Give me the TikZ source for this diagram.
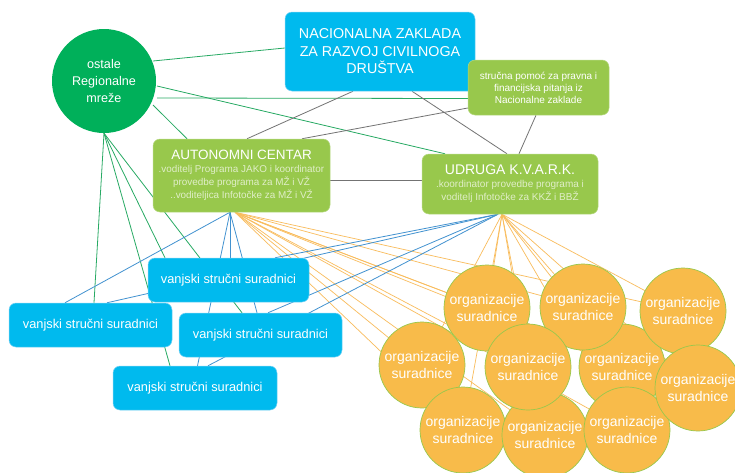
\documentclass[tikz,border=0pt]{standalone}
\usepackage{fontspec}
\setmainfont{Liberation Sans}
\usetikzlibrary{backgrounds,calc}
\definecolor{cy}{RGB}{0,186,238}
\definecolor{cyd}{RGB}{120,210,245}
\definecolor{gc}{RGB}{0,176,90}
\definecolor{lg}{RGB}{152,200,76}
\definecolor{subc}{RGB}{224,238,200}
\definecolor{orf}{RGB}{248,187,74}
\definecolor{orl}{RGB}{249,188,92}
\definecolor{bll}{RGB}{66,146,208}
\definecolor{grl}{RGB}{40,170,100}
\definecolor{gyl}{RGB}{115,115,115}
\begin{document}
\begin{tikzpicture}[x=1pt,y=-1pt,
  cybox/.style={rectangle,rounded corners=7pt,fill=cy,draw=cyd,line width=0.5pt,text=white,inner sep=0pt,align=center},
  lgbox/.style={rectangle,rounded corners=7pt,fill=lg,draw=lg!70!white,line width=0.5pt,text=white,inner sep=0pt,align=center},
  orc/.style={circle,fill=orf,draw=lg,line width=0.7pt,minimum size=86pt,inner sep=0pt,text=white,align=center,font=\fontsize{14}{16.7}\selectfont},
  vbox/.style={cybox,minimum height=44pt,font=\fontsize{12.8}{15}\selectfont},
  gline/.style={draw=grl,line width=0.8pt},
  gyline/.style={draw=gyl,line width=0.8pt},
  bline/.style={draw=bll,line width=0.8pt},
  oline/.style={draw=orl,line width=0.7pt}]
\useasboundingbox (0,0) rectangle (735,472);
\clip (0,0) rectangle (735,472);
% nodes
\node[circle,fill=gc,minimum size=104pt,inner sep=0pt,text=white,align=center,font=\fontsize{12.6}{16.6}\selectfont] (g) at (104,81) {ostale\\Regionalne\\mreže};
\node[cybox,minimum width=190pt,minimum height=79pt,font=\fontsize{14.3}{17.5}\selectfont] (N) at (380,51.5) {NACIONALNA ZAKLADA\\ZA RAZVOJ CIVILNOGA\\DRUŠTVA};
\node[lgbox,minimum width=141pt,minimum height=55pt,font=\fontsize{10}{12}\selectfont] (S) at (538.5,87.5) {stručna pomoć za pravna i\\financijska pitanja iz\\Nacionalne zaklade};
\node[lgbox,minimum width=177pt,minimum height=73pt,font=\fontsize{9.9}{13}\selectfont] (A) at (241.5,175.5) {{\fontsize{13.5}{16}\selectfont AUTONOMNI CENTAR}\\[0pt]\textcolor{subc}{.voditelj Programa JAKO i koordinator}\\\textcolor{subc}{provedbe programa za MŽ i VŽ}\\\textcolor{subc}{..voditeljica Infotočke za MŽ i VŽ}};
\node[lgbox,minimum width=176pt,minimum height=60pt,font=\fontsize{10}{13}\selectfont] (U) at (510,184) {{\fontsize{14}{16}\selectfont UDRUGA K.V.A.R.K.}\\[0pt]\textcolor{subc}{.koordinator provedbe programa i}\\\textcolor{subc}{voditelj Infotočke za KKŽ i BBŽ}};
\node[vbox,minimum width=161pt] (v1) at (228.5,280) {vanjski stručni suradnici};
\node[vbox,minimum width=163pt] (v2) at (90.5,325) {vanjski stručni suradnici};
\node[vbox,minimum width=163pt] (v3) at (260.5,335) {vanjski stručni suradnici};
\node[vbox,minimum width=164pt] (v4) at (195,388) {vanjski stručni suradnici};
\node[orc] (oD) at (422,365) {organizacije\\suradnice};
\node[orc] (oA) at (487,308) {organizacije\\suradnice};
\node[orc] (oF) at (622,367) {organizacije\\suradnice};
\node[orc] (oB) at (583,307) {organizacije\\suradnice};
\node[orc] (oC) at (683,311) {organizacije\\suradnice};
\node[orc] (oH) at (463,430) {organizacije\\suradnice};
\node[orc] (oI) at (545,435) {organizacije\\suradnice};
\node[orc] (oJ) at (627,430) {organizacije\\suradnice};
\node[orc] (oG) at (698,388) {organizacije\\suradnice};
\node[orc] (oE) at (528,367) {organizacije\\suradnice};
% connectors
\begin{scope}[on background layer]
\fill[white] (0,0) rectangle (735,472);
% green
\draw[gline] ($(g.center)+(49,-20)$) -- ($(N.west)+(0,-3.5)$);
\draw[gline] ($(g.center)+(53,17)$) -- ($(S.west)+(0,11)$);
\draw[gline] ($(g.center)+(53,5)$) -- ($(U.north)+(-65,0)$);
\draw[gline] ($(g.center)+(49,24)$) -- ($(A.north)+(-54.5,0)$);
\draw[gline] (g.south) -- ($(v2.north)+(3.5,0)$);
\draw[gline] (g.south) -- ($(v4.north)+(-25,0)$);
\draw[gline] (g.south) -- ($(v1.north)+(-63.5,0)$);
\draw[gline] (g.south) -- ($(v3.north)+(-18.5,0)$);
% gray
\draw[gyline] ($(N.south)+(-27,0)$) -- ($(A.north)+(5.5,0)$);
\draw[gyline] ($(S.west)+(0,20.5)$) -- ($(A.north)+(60.5,0)$);
\draw[gyline] ($(N.south)+(32,0)$) -- ($(U.north)+(-3,0)$);
\draw[gyline] ($(S.south)+(-2.5,0)$) -- ($(U.north)+(9,0)$);
\draw[gyline] ($(A.east)+(0,4.5)$) -- ($(U.west)+(0,-4)$);
% orange
\foreach \o in {oA,oB,oC,oD,oE,oF,oG,oH,oI,oJ}{
  \draw[oline] ($(A.south)+(-6.5,0)$) -- (\o.center);
  \draw[oline] ($(U.south)+(-8,0)$) -- (\o.center);
}
% blue
\draw[bline] ($(A.south)+(-11.5,0)$) -- ($(v1.north)+(1.5,0)$);
\draw[bline] ($(A.south)+(-11.5,0)$) -- ($(v2.north)+(-25.5,0)$);
\draw[bline] ($(A.south)+(-11.5,0)$) -- ($(v3.north)+(-3.5,0)$);
\draw[bline] ($(A.south)+(-11.5,0)$) -- ($(v4.north)+(2.5,0)$);
\draw[bline] ($(U.south)+(-12,0)$) -- ($(v1.north)+(46.5,0)$);
\draw[bline] ($(U.south)+(-12,0)$) -- ($(v2.north)+(16.5,0)$);
\draw[bline] ($(U.south)+(-12,0)$) -- ($(v3.north)+(7.5,0)$);
\draw[bline] ($(U.south)+(-12,0)$) -- ($(v4.north)+(13,0)$);
\end{scope}
\end{tikzpicture}
\end{document}
